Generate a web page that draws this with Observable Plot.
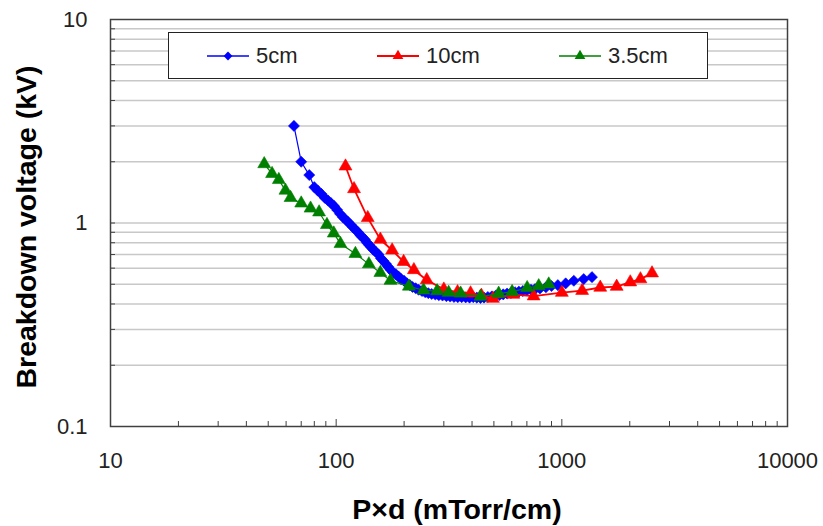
<!DOCTYPE html>
<html><head><meta charset="utf-8">
<script src="https://cdn.jsdelivr.net/npm/d3@7"></script>
<script src="https://cdn.jsdelivr.net/npm/@observablehq/plot@0.6"></script>
<style>
body{margin:0;background:#fff;font-family:"Liberation Sans",Arial,sans-serif;}
#wrap{position:relative;width:823px;height:526px;}
#legend{position:absolute;left:168px;top:32px;width:538px;height:45px;border:1.5px solid #222;background:#fff;}
.item{position:absolute;top:0;height:45px;display:flex;align-items:center;font-size:22px;color:#222;}
.item svg{margin-right:7px;}
</style></head>
<body><div id="wrap"><div id="legend"></div></div>
<script>
// ---- data ----
const seriesNames = ["5cm", "10cm", "3.5cm"];
const seriesColors = ["#0000ff", "#ff0000", "#008000"];
const seriesSymbols = ["diamond2", "triangle", "triangle"];

const blueX = [65,70,76,80,83,86,89,92,95,98,101,104,107,110,113,116,119,122,125,128,131,134,137,140,143,146,150,154,158,162,166,170,174,179,184,189,194,200,206,212,218,225,232,240,248,256,265,275,285,296,308,320,333,346,360,375,390,405,420,436,452,470,490,510,530,550,572,595,620,645,672,700,730,760,800,850,900,960,1040,1130,1250,1360];
const blueY = [3.0,2.0,1.72,1.50,1.44,1.39,1.33,1.29,1.25,1.21,1.16,1.11,1.07,1.04,1.01,0.98,0.95,0.925,0.90,0.87,0.85,0.83,0.80,0.78,0.76,0.74,0.72,0.70,0.67,0.65,0.63,0.61,0.59,0.57,0.56,0.545,0.53,0.52,0.505,0.495,0.485,0.478,0.47,0.463,0.457,0.452,0.448,0.445,0.442,0.44,0.437,0.435,0.433,0.432,0.432,0.431,0.43,0.432,0.43,0.428,0.43,0.433,0.436,0.44,0.443,0.446,0.45,0.453,0.457,0.46,0.463,0.467,0.47,0.473,0.477,0.483,0.49,0.495,0.505,0.52,0.53,0.542];

const redX = [110,120,138,157,177,199,221,252,300,345,394,440,495,610,750,1000,1230,1480,1750,2010,2230,2510];
const redY = [1.90,1.47,1.06,0.83,0.735,0.645,0.588,0.525,0.472,0.458,0.452,0.44,0.425,0.445,0.437,0.455,0.465,0.482,0.487,0.512,0.53,0.567];

const greenX = [48,52,55.7,59.6,62.8,70,77,84,91,97.6,104.5,121.7,139.6,157,174,210,244,280,315,356,436,525,602,702,790,875];
const greenY = [1.95,1.745,1.63,1.445,1.33,1.25,1.18,1.13,0.98,0.89,0.79,0.706,0.628,0.57,0.521,0.488,0.467,0.463,0.455,0.451,0.435,0.45,0.459,0.48,0.49,0.50];

const xTickLabels = [10, 100, 1000, 10000];
const yTickLabels = [0.1, 1, 10];
const yGrid = [0.2,0.3,0.4,0.5,0.6,0.7,0.8,0.9,1,2,3,4,5,6,7,8,9];
const xMinor = [20,30,40,50,60,70,80,90,200,300,400,500,600,700,800,900,2000,3000,4000,5000,6000,7000,8000,9000];
const xMajor = [100, 1000];
const xTitle = "P×d (mTorr/cm)";
const yTitle = "Breakdown voltage (kV)";

// ---- build ----
const seriesXY = [[blueX, blueY], [redX, redY], [greenX, greenY]];
const rows = [];
seriesXY.forEach(([xs, ys], i) => xs.forEach((x, j) => rows.push({series: seriesNames[i], x, y: ys[j]})));

const W = 823, H = 526, mL = 110, mR = 36, mT = 19, mB = 100;
const plotW = W - mL - mR, plotH = H - mT - mB;
const font = "Liberation Sans, Arial, sans-serif";

const seriesMarks = [];
seriesNames.forEach((name, i) => {
  const d = rows.filter(r => r.series === name);
  seriesMarks.push(Plot.line(d, {x: "x", y: "y", stroke: seriesColors[i], strokeWidth: i === 1 ? 1.8 : 1.2}));
  seriesMarks.push(Plot.dot(d, {x: "x", y: "y", symbol: seriesSymbols[i], fill: seriesColors[i], stroke: seriesColors[i], strokeWidth: 0.6, r: i === 0 ? 5 : 4.8}));
});

const chart = Plot.plot({
  width: W, height: H,
  marginLeft: mL, marginRight: mR, marginTop: mT, marginBottom: mB,
  x: {type: "log", domain: [10, 10000]},
  y: {type: "log", domain: [0.1, 10]},
  style: {fontFamily: font, background: "white", overflow: "visible"},
  marks: [
    Plot.ruleY(yGrid, {stroke: "#c8c8c8", strokeWidth: 1.5}),
    Plot.tickY(yGrid, {stroke: "#404040", strokeWidth: 1, insetRight: plotW - 5}),
    Plot.tickX(xMinor, {stroke: "#404040", strokeWidth: 1, insetTop: plotH - 5}),
    Plot.tickX(xMajor, {stroke: "#404040", strokeWidth: 1, insetTop: plotH - 7}),
    Plot.frame({stroke: "#404040", strokeWidth: 1.5}),
    Plot.axisX(xTickLabels, {tickSize: 0, tickPadding: 26, fontSize: 22, fill: "#222", label: null, tickFormat: d => String(d)}),
    Plot.axisY(yTickLabels, {tickSize: 0, tickPadding: 23, fontSize: 22, fill: "#222", label: null, tickFormat: d => String(d)}),
    ...seriesMarks,
    Plot.text([xTitle], {text: d => d, frameAnchor: "bottom", textAnchor: "middle", lineAnchor: "middle", dx: 8, dy: 83, fontSize: 28.5, fontWeight: "bold", fill: "#000"}),
    Plot.text([yTitle], {text: d => d, frameAnchor: "left", textAnchor: "middle", lineAnchor: "middle", rotate: -90, dx: -84, dy: 4, fontSize: 28.5, fontWeight: "bold", fill: "#000"})
  ]
});
document.getElementById("wrap").prepend(chart);

// ---- legend (inside plot) ----
const legend = document.getElementById("legend");
const itemLefts = [38, 208, 390];
seriesNames.forEach((name, i) => {
  const div = document.createElement("div");
  div.className = "item";
  div.style.left = itemLefts[i] + "px";
  const sym = d3.symbol(seriesSymbols[i] === "diamond2" ? d3.symbolDiamond2 : d3.symbolTriangle, 50)();
  div.innerHTML = `<svg width="42" height="16"><line x1="0" x2="42" y1="8" y2="8" stroke="${seriesColors[i]}" stroke-width="${i === 1 ? 2.2 : 1.3}"/><path d="${sym}" transform="translate(21,8)" fill="${seriesColors[i]}"/></svg><span>${name}</span>`;
  legend.appendChild(div);
});
</script>
</body></html>
